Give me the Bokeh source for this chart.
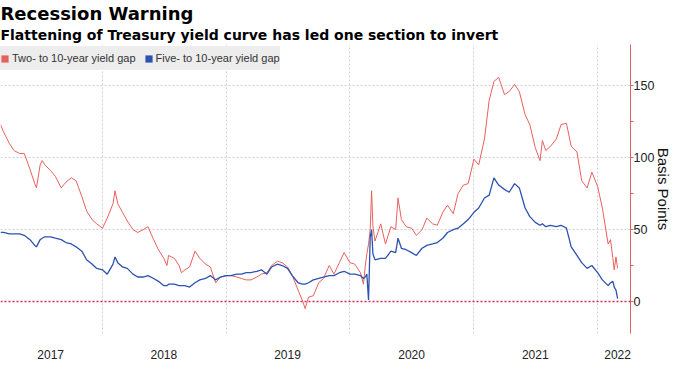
import pandas as pd
from bokeh.plotting import figure
from bokeh.models import (Range1d, FixedTicker, DatetimeTickFormatter, Span,
                          Legend, LegendItem, Title, ColumnDataSource)
from bokeh.embed import file_html
from bokeh.resources import INLINE

# ---- data (basis points) ----
dates = [
    "2017-03-06", "2017-03-15", "2017-04-01", "2017-04-15", "2017-05-01", "2017-05-15",
    "2017-06-01", "2017-06-15", "2017-07-01", "2017-07-15", "2017-08-01", "2017-08-15",
    "2017-09-01", "2017-09-15", "2017-10-01", "2017-10-15", "2017-11-01", "2017-11-15",
    "2017-12-01", "2017-12-15", "2018-01-01", "2018-01-15", "2018-02-01", "2018-02-07",
    "2018-02-15", "2018-03-01", "2018-03-15", "2018-04-01", "2018-04-15", "2018-05-01",
    "2018-05-15", "2018-06-01", "2018-06-15", "2018-07-01", "2018-07-15", "2018-08-01",
    "2018-08-15", "2018-09-01", "2018-09-15", "2018-10-01", "2018-10-15", "2018-11-01",
    "2018-11-15", "2018-12-01", "2018-12-15", "2019-01-01", "2019-01-15", "2019-02-01",
    "2019-02-15", "2019-03-01", "2019-03-15", "2019-04-01", "2019-04-15", "2019-05-01",
    "2019-05-15", "2019-06-01", "2019-06-15", "2019-07-01", "2019-07-15", "2019-08-01",
    "2019-08-15", "2019-08-22", "2019-09-01", "2019-09-15", "2019-10-01", "2019-10-15",
    "2019-11-01", "2019-11-15", "2019-12-01", "2019-12-15", "2020-01-01", "2020-01-15",
    "2020-02-01", "2020-02-15", "2020-02-20", "2020-02-25", "2020-03-01", "2020-03-05",
    "2020-03-09", "2020-03-15", "2020-04-01", "2020-04-15", "2020-05-01", "2020-05-15",
    "2020-05-22", "2020-06-01", "2020-06-15", "2020-07-01", "2020-07-15", "2020-08-01",
    "2020-08-15", "2020-09-01", "2020-09-15", "2020-10-01", "2020-10-15", "2020-11-01",
    "2020-11-15", "2020-12-01", "2020-12-15", "2021-01-01", "2021-01-15", "2021-02-01",
    "2021-02-15", "2021-03-01", "2021-03-15", "2021-04-01", "2021-04-15", "2021-05-01",
    "2021-05-15", "2021-06-01", "2021-06-15", "2021-07-01", "2021-07-15", "2021-08-01",
    "2021-08-15", "2021-09-01", "2021-09-15", "2021-10-01", "2021-10-15", "2021-11-01",
    "2021-11-15", "2021-12-01", "2021-12-15", "2022-01-01", "2022-01-15", "2022-02-01",
    "2022-02-15", "2022-03-01",
]
two_ten = [
    123, 118, 110, 105, 103, 103, 92, 82, 95, 95, 91, 87,
    79, 83, 86, 84, 73, 63, 57, 54, 51, 58, 68, 77,
    68, 62, 56, 50, 48, 50, 52, 43, 36, 30, 32, 30,
    25, 22, 24, 35, 30, 26, 24, 13, 17, 18, 18, 17,
    16, 15, 15, 17, 19, 20, 25, 28, 27, 24, 18, 8,
    0, -5, 3, 4, 13, 16, 25, 19, 27, 34, 27, 26,
    20, 24, 33, 40, 50, 77, 52, 42, 54, 40, 52, 50,
    72, 57, 52, 51, 46, 50, 58, 54, 53, 62, 67, 61,
    75, 81, 82, 99, 95, 113, 140, 153, 156, 144, 146, 151,
    146, 130, 123, 107, 98, 105, 108, 113, 123, 124, 108, 104,
    84, 79, 90, 80, 65, 40, 30, 23,
]
five_ten = [
    48, 48, 47, 47, 47, 46, 43, 39, 43, 45, 45, 44,
    43, 41, 40, 38, 35, 29, 26, 23, 22, 19, 26, 31,
    27, 24, 23, 19, 17, 17, 18, 16, 14, 11, 12, 12,
    11, 11, 10, 13, 15, 16, 18, 15, 17, 18, 18, 19,
    19, 20, 20, 21, 22, 19, 24, 26, 25, 23, 18, 13,
    12, 12, 13, 15, 16, 17, 18, 18, 20, 21, 19, 19,
    18, 17, 19, 1, 45, 50, 33, 29, 30, 30, 35, 34,
    44, 37, 36, 34, 32, 37, 39, 40, 41, 44, 48, 50,
    51, 54, 57, 62, 65, 72, 74, 86, 81, 78, 76, 82,
    79, 65, 59, 55, 53, 52, 53, 52, 53, 51, 38, 32,
    27, 23, 25, 20, 15, 11, 14, 2,
]
# additional readings between the half-monthly points (local highs and lows)
extra_dates = ["2017-06-20", "2017-07-07", "2018-07-10", "2018-08-22", "2020-02-10",
               "2021-07-22", "2022-02-08", "2022-02-19", "2022-02-24"]
extra_two_ten = [79, 98, 25, 20, 12, 112, 43, 22, 31]
extra_five_ten = [38, 44, 11, 11, 16, 54, 13, 10, 8]

y_ticks = [0, 50, 100, 150]
y_minor_ticks = [25, 75, 125]
grid_years = ["2018-01-01", "2019-01-01", "2020-01-01", "2021-01-01", "2022-01-01"]
label_dates = ["2017-08-01", "2018-07-01", "2019-07-01", "2020-07-01", "2021-07-01", "2022-03-01"]
x_start, x_end = "2017-03-06", "2022-04-08"
series_names = ["Two- to 10-year yield gap", "Five- to 10-year yield gap"]

RED = "#e8605e"
BLUE = "#2c52b0"
AXIS_RED = "#e06464"
ZERO = "#cc2a5a"
GRID = "#cfcfcf"


def ms(d):
    return pd.Timestamp(d).value // 10**6


df = pd.DataFrame({"date": pd.to_datetime(dates + extra_dates),
                   "two_ten": two_ten + extra_two_ten,
                   "five_ten": five_ten + extra_five_ten}).sort_values("date")
src = ColumnDataSource(df)

p = figure(width=675, height=379, x_axis_type="datetime", y_axis_location="right",
           output_backend="svg", toolbar_location=None, title=None,
           x_range=Range1d(ms(x_start), ms(x_end)), y_range=Range1d(-22.3, 178.8),
           min_border_left=0, min_border_right=0, min_border_top=0, min_border_bottom=46)
p.outline_line_color = None
p.background_fill_color = "white"
p.border_fill_color = "white"

# grids
p.xgrid.ticker = FixedTicker(ticks=[ms(d) for d in grid_years])
p.ygrid.ticker = FixedTicker(ticks=[t for t in y_ticks if t != 0])
for g in (p.xgrid, p.ygrid):
    g.grid_line_color = GRID
    g.grid_line_dash = "2 2"
    g.grid_line_width = 1

# lines
p.line("date", "two_ten", source=src, line_color=RED, line_width=1)
p.line("date", "five_ten", source=src, line_color=BLUE, line_width=1.3)

p.add_layout(Span(location=0, dimension="width", line_color=ZERO,
                  line_dash="2 2", line_width=1.6))

# right axis
ya = p.yaxis[0]
ya.ticker = FixedTicker(ticks=y_ticks, minor_ticks=y_minor_ticks)
ya.axis_line_color = AXIS_RED
ya.major_tick_line_color = AXIS_RED
ya.minor_tick_line_color = AXIS_RED
ya.major_tick_out = 3
ya.major_tick_in = 0
ya.minor_tick_out = 3
ya.minor_tick_in = 0
ya.major_label_text_font = "Liberation Sans"
ya.major_label_text_font_size = "12.5px"
ya.major_label_text_color = "#222222"
ya.major_label_standoff = 0
ya.axis_label = "Basis Points"
ya.axis_label_text_font = "Liberation Sans"
ya.axis_label_text_font_size = "15px"
ya.axis_label_text_font_style = "normal"
ya.axis_label_text_color = "#111111"
ya.axis_label_standoff = -2

# bottom axis (labels centred in each year)
xa = p.xaxis[0]
xa.ticker = FixedTicker(ticks=[ms(d) for d in label_dates])
xa.formatter = DatetimeTickFormatter(years="%Y", months="%Y", days="%Y", hours="%Y",
                                     hourmin="%Y", minutes="%Y", minsec="%Y",
                                     seconds="%Y", milliseconds="%Y", microseconds="%Y")
xa.axis_line_color = None
xa.major_tick_line_color = None
xa.minor_tick_line_color = None
xa.major_tick_out = 0
xa.major_tick_in = 0
xa.minor_tick_out = 0
xa.minor_tick_in = 0
xa.major_label_standoff = 16
xa.major_label_text_font = "Liberation Sans"
xa.major_label_text_font_size = "12px"
xa.major_label_text_color = "#222222"

# legend with square swatches (placeholder rows hold no visible data)
swatch_src = ColumnDataSource(data=dict(l=[float("nan")], r=[float("nan")],
                                        t=[float("nan")], b=[float("nan")]))
sq_red = p.quad(left="l", right="r", top="t", bottom="b", source=swatch_src,
                fill_color=RED, line_color=None)
sq_blue = p.quad(left="l", right="r", top="t", bottom="b", source=swatch_src,
                 fill_color=BLUE, line_color=None)
legend = Legend(items=[LegendItem(label=series_names[0], renderers=[sq_red]),
                       LegendItem(label=series_names[1], renderers=[sq_blue])],
                location=(0, 263), orientation="horizontal",
                background_fill_color="#ededed", background_fill_alpha=1,
                border_line_color=None, padding=6, margin=0, spacing=8,
                glyph_width=9, glyph_height=9, label_height=24, label_standoff=3,
                label_text_font="Liberation Sans", label_text_font_size="11px",
                label_text_color="#333333")
p.add_layout(legend)

# titles
p.add_layout(Title(text="Flattening of Treasury yield curve has led one section to invert",
                   text_font="DejaVu Sans", text_font_size="14px", text_font_style="bold",
                   text_color="#000000", align="left", standoff=3, offset=0), "above")
p.add_layout(Title(text="Recession Warning", text_font="DejaVu Sans", text_font_size="18px",
                   text_font_style="bold", text_color="#000000", align="left",
                   standoff=0, offset=0), "above")

open("out.html", "w").write(file_html(p, INLINE))
